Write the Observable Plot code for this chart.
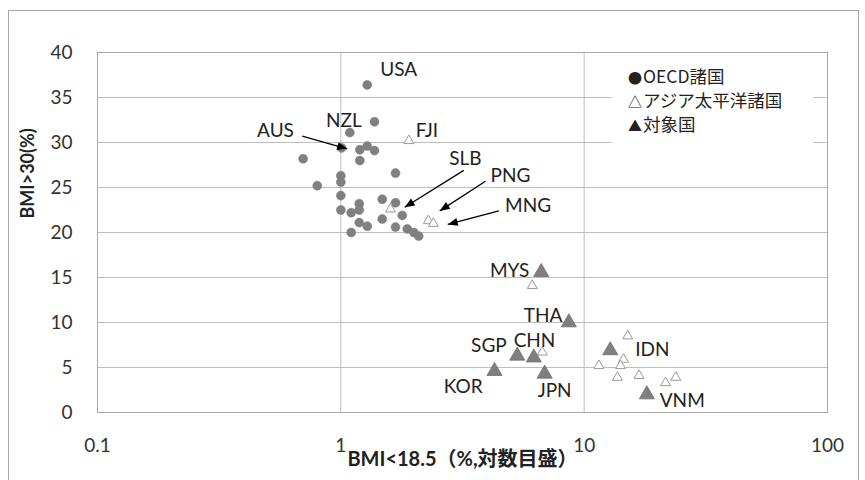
<!DOCTYPE html>
<html><head><meta charset="utf-8">
<script src="https://cdn.jsdelivr.net/npm/d3@7"></script>
<script src="https://cdn.jsdelivr.net/npm/@observablehq/plot@0.6"></script>
<style>body{margin:0;background:#fff} #chart{width:865px;height:480px}</style>
</head><body><div id="chart"></div>
<script>
// OECD countries (filled circles)
const oecdX = [1.284,1.375,1.089,1.197,1.284,1.375,1.197,0.70,1.678,1.0,1.0,0.80,1.0,1.0,1.103,1.19,1.19,1.48,1.678,1.48,1.788,1.678,1.875,1.995,2.09,1.19,1.284,1.103,1.007];
const oecdY = [36.4,32.3,31.1,29.2,29.6,29.1,28.0,28.2,26.6,26.3,25.6,25.2,24.1,22.5,22.2,23.2,22.5,23.7,23.3,21.5,21.9,20.6,20.4,20.0,19.6,21.1,20.7,20.0,29.4];
// Asia-Pacific countries (open triangles)
const apX = [1.904,1.60,2.29,2.40,6.12,6.73,15.1,11.5,14.5,14.1,13.7,16.8,21.6,23.8];
const apY = [30.2,22.6,21.3,21.0,14.1,6.7,8.5,5.2,5.9,5.2,3.9,4.1,3.3,3.9];
// Target countries (filled triangles)
const targetNames = ["MYS","THA","SGP","CHN","KOR","JPN","IDN","VNM"];
const targetX = [6.66,8.65,5.31,6.21,4.28,6.88,12.8,18.1];
const targetY = [15.6,10.0,6.3,6.1,4.6,4.3,6.9,2.0];
// Country labels
const labelText = ["USA","NZL","AUS","FJI","SLB","PNG","MNG","MYS","THA","SGP","CHN","KOR","JPN","IDN","VNM"];
const labelX = [1.73,1.03,0.539,2.26,3.25,4.98,5.88,4.94,6.78,4.06,6.25,3.18,7.56,19.05,25.3];
const labelY = [38.1,32.4,31.3,31.3,28.2,26.3,23.0,15.7,10.7,7.4,8.0,2.8,2.4,6.9,1.3];
// Annotation arrows
const arrowNames = ["AUS","SLB","PNG","MNG"];
const arrowX1 = [0.694,3.20,3.93,4.46];
const arrowY1 = [30.7,26.9,25.7,22.4];
const arrowX2 = [1.062,1.83,2.55,2.75];
const arrowY2 = [29.3,22.8,22.4,20.9];
// Axes
const xTicks = [0.1,1,10,100];
const yTicks = [0,5,10,15,20,25,30,35,40];
const xGrid = [1,10];
const xTitle = "BMI<18.5（%,対数目盛）";
const yTitle = "BMI>30(%)";
const legendSymbols = ["●","△","▲"];
const legendLabels = ["OECD諸国","アジア太平洋諸国","対象国"];

const oecd = oecdX.map((x,i)=>({x, y:oecdY[i]}));
const ap = apX.map((x,i)=>({x, y:apY[i]}));
const target = targetX.map((x,i)=>({name:targetNames[i], x, y:targetY[i]}));
const labels = labelText.map((t,i)=>({t, x:labelX[i], y:labelY[i]}));
const arrows = arrowNames.map((n,i)=>({n, x1:arrowX1[i], y1:arrowY1[i], x2:arrowX2[i], y2:arrowY2[i]}));

const font = "Lato, 'Noto Sans CJK JP', sans-serif";
const plot = Plot.plot({
  width:865, height:480,
  marginLeft:97, marginRight:38, marginTop:52, marginBottom:68,
  style:{fontFamily:font, fontSize:"19px", color:"#333", background:"white"},
  x:{type:"log", domain:[0.1,100]},
  y:{domain:[0,40]},
  marks:[
    Plot.gridY(yTicks,{stroke:"#bdbdbd", strokeOpacity:1}),
    Plot.gridX(xGrid,{stroke:"#bdbdbd", strokeOpacity:1}),
    Plot.frame({stroke:"#a8a8a8"}),
    Plot.axisX(xTicks,{tickSize:0, tickPadding:26, label:null, tickFormat:d=>String(d), fontSize:19}),
    Plot.axisY(yTicks,{tickSize:0, tickPadding:25, label:null, fontSize:19}),
    Plot.text([xTitle],{frameAnchor:"bottom", dy:53, fontWeight:"bold", fontSize:20, fill:"#222"}),
    Plot.text([yTitle],{frameAnchor:"left", dx:-69, dy:-14, rotate:-90, fontWeight:"bold", fontSize:18, fill:"#222"}),
    Plot.dot(oecd,{x:"x", y:"y", r:4.5, fill:"#808080", stroke:"#7a7a7a", strokeWidth:0.5}),
    Plot.dot(ap,{x:"x", y:"y", symbol:"triangle", r:3.7, fill:"white", stroke:"#9a9a9a", strokeWidth:1}),
    Plot.dot(target,{x:"x", y:"y", symbol:"triangle", r:5.6, fill:"#7f7f7f", stroke:"#6e6e6e", strokeWidth:0.8}),
    Plot.link(arrows,{x1:"x1", y1:"y1", x2:"x2", y2:"y2", stroke:"black", strokeWidth:1.3, markerEnd:"arrow"}),
    Plot.text(labels,{x:"x", y:"y", text:"t", fontSize:19, fill:"#222"})
  ]
});
document.getElementById("chart").appendChild(plot);

// filled arrowheads
const svg = d3.select(plot);
svg.selectAll("marker")
  .attr("viewBox","-11 -6 12 12")
  .attr("markerUnits","userSpaceOnUse")
  .attr("markerWidth",12).attr("markerHeight",12)
  .attr("fill","black").attr("stroke","none")
  .selectAll("path").attr("d","M-10,-4L0,0L-10,4Z");

// legend box
const lg = svg.append("g").attr("font-family","'Noto Sans CJK JP', sans-serif").attr("font-size",17.5)
  .attr("fill","#222").attr("text-anchor","start");
lg.append("rect").attr("x",612).attr("y",64).attr("width",201).attr("height",86).attr("fill","white");
const rows = lg.selectAll("text").data(legendLabels).join("text")
  .attr("x",628).attr("y",(d,i)=>84+i*24).attr("dy","0.35em");
rows.append("tspan").attr("font-size",14).attr("dy","-0.05em").text((d,i)=>legendSymbols[i]);
rows.append("tspan").attr("dx",1).text(d=>d);

// outer chart border
svg.append("rect").attr("x",8.5).attr("y",10.5).attr("width",850).attr("height",480)
  .attr("fill","none").attr("stroke","#a8a8a8");
</script></body></html>
